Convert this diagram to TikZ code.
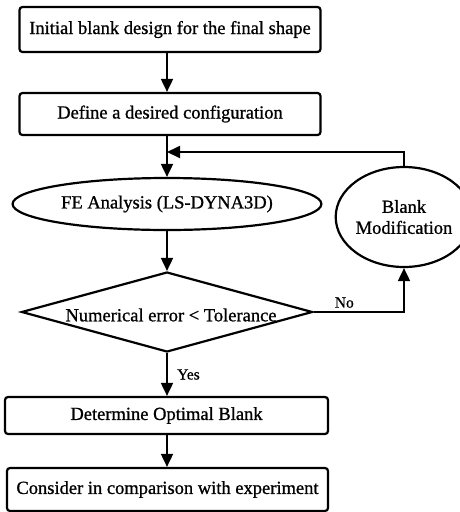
\documentclass[tikz,border=0pt]{standalone}
\usepackage{fontspec}
\setmainfont{Liberation Serif}
\newfontfamily\scanfont{Liberation Serif}[FakeBold=0.9]
\usetikzlibrary{shapes.geometric,arrows.meta}
\begin{document}
\begin{tikzpicture}[x=1pt,y=-1pt,
  every node/.style={font=\scanfont\fontsize{18.5}{21}\selectfont},
  box/.style={draw,line width=2.2pt,rounded corners=3pt},
  conn/.style={line width=1.8pt,-{Triangle[length=13pt,width=12pt]}},
  lbl/.style={font=\scanfont\fontsize{15.5}{18}\selectfont}]
\useasboundingbox (0,0) rectangle (460,512);
\node[box,minimum width=301pt,minimum height=45pt] (b1) at (170,29.5) {Initial blank design for the final shape};
\node[box,minimum width=301pt,minimum height=42pt] (b2) at (170,114) {Define a desired configuration};
\node[draw,line width=2.2pt,ellipse,minimum width=290pt,minimum height=52pt] (fe) at (167,204) {FE Analysis (LS-DYNA3D)};
\node[draw,line width=2.2pt,ellipse,minimum width=110pt,minimum height=100pt,align=center,inner sep=0pt] (bm) at (404,217) {Blank\\Modification};
\node[draw,line width=2.2pt,diamond,aspect=3.6,minimum width=291pt,minimum height=80pt,inner sep=0pt] (dec) at (167,312) {};
\node at (171,315) {Numerical error < Tolerance};
\node[box,minimum width=323pt,minimum height=37pt] (b3) at (166.5,415.5) {Determine Optimal Blank};
\node[box,minimum width=321pt,minimum height=43pt] (b4) at (167.5,489.5) {Consider in comparison with experiment};
\coordinate (j) at (167,152);
\draw[conn] (b1.south -| 167,0) -- (b2.north -| 167,0);
\draw[conn] (b2.south -| 167,0) -- (fe.north);
\draw[conn] (fe.south) -- (dec.north);
\draw[conn] (dec.south) -- (b3.north -| dec.south) node[lbl,midway,right=6pt] {Yes};
\draw[conn] (b3.south -| 167,0) -- (b4.north -| 167,0);
\draw[conn] (dec.east) -| (bm.south) node[lbl,pos=0.17,above] {No};
\draw[conn] (bm.north) |- (j);
\end{tikzpicture}
\end{document}
